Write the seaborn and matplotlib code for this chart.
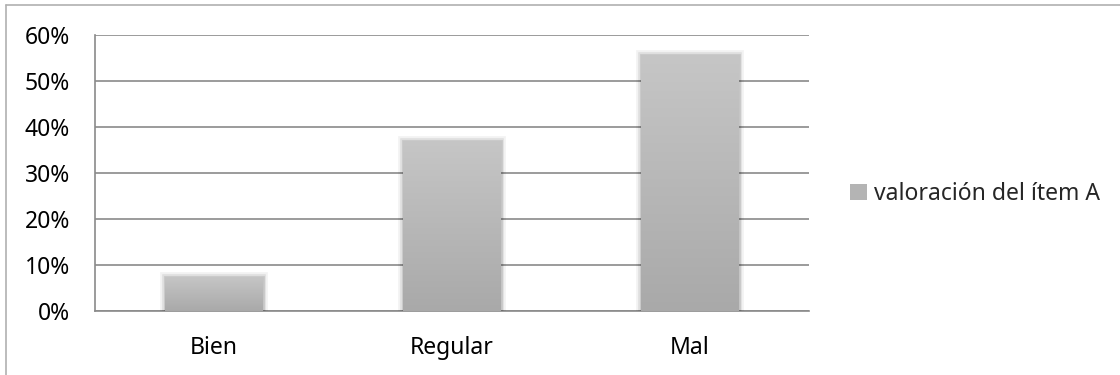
import numpy as np
import pandas as pd
import seaborn as sns
import matplotlib
matplotlib.use("Agg")
import matplotlib.pyplot as plt
import matplotlib.patheffects as pe
from matplotlib.lines import Line2D
from matplotlib.ticker import PercentFormatter
from matplotlib.colors import LinearSegmentedColormap

# ---- data ----
categories = ["Bien", "Regular", "Mal"]
values = [0.074, 0.370, 0.556]
series_name = "valoración del ítem A"
y_ticks = [0.0, 0.1, 0.2, 0.3, 0.4, 0.5, 0.6]

sns.set_theme(style="white")
plt.rcParams["font.family"] = ["Noto Sans", "DejaVu Sans"]

FS = 16.5

fig = plt.figure(figsize=(11.2, 3.75), dpi=100)
ax = fig.add_axes([95 / 1120, 1 - 311 / 375, (809 - 95) / 1120, (311 - 35) / 375])

df = pd.DataFrame({"cat": categories, "val": values})
sns.barplot(data=df, x="cat", y="val", color="#b4b4b4", width=0.41,
            saturation=1, ax=ax, label=series_name, zorder=3)

ax.set_ylim(0, 0.6)
ax.set_yticks(y_ticks)
ax.yaxis.set_major_formatter(PercentFormatter(1.0, decimals=0))
ax.grid(axis="y", color="#8a8a8a", linewidth=1.2, zorder=0)
ax.grid(axis="x", visible=False)
ax.set_axisbelow(True)
for s in ["top", "right"]:
    ax.spines[s].set_visible(False)
for s in ["left", "bottom"]:
    ax.spines[s].set_color("#8a8a8a")
    ax.spines[s].set_linewidth(1.2)
ax.tick_params(axis="both", length=0, labelsize=FS, colors="#000000")
ax.tick_params(axis="y", pad=18)
ax.tick_params(axis="x", pad=18)
ax.set_xlabel("")
ax.set_ylabel("")

# gradient fill + soft shadow on each bar
grad = np.linspace(0, 1, 256).reshape(-1, 1)
cmap = LinearSegmentedColormap.from_list("g", ["#a9a9a9", "#c6c6c6"])
for p in list(ax.patches):
    x0, y0 = p.get_x(), p.get_y()
    w, h = p.get_width(), p.get_height()
    p.set_path_effects([
        pe.Stroke(linewidth=7, foreground="#000000", alpha=0.05),
        pe.Stroke(linewidth=4, foreground="#000000", alpha=0.08),
        pe.Stroke(linewidth=2, foreground="#000000", alpha=0.10),
        pe.Normal(),
    ])
    p.set_edgecolor("none")
    im = ax.imshow(grad, extent=[x0, x0 + w, y0, y0 + h], origin="lower",
                   cmap=cmap, aspect="auto", zorder=4, interpolation="bicubic")
    im.set_clip_path(p)
ax.set_xlim(-0.5, 2.5)
ax.set_ylim(0, 0.6)

# legend
handles, labels = ax.get_legend_handles_labels()
if ax.get_legend() is not None:
    ax.get_legend().remove()
leg = fig.legend(handles, labels, loc="center left", bbox_to_anchor=(850 / 1120, 1 - 194 / 375),
                 frameon=False, fontsize=FS, handlelength=0.75, handleheight=0.75,
                 handletextpad=0.3, borderpad=0, borderaxespad=0)
for h in leg.legend_handles:
    h.set_path_effects([])

# outer chart-area border (extends beyond the image on the right/bottom)
fig.add_artist(Line2D([6 / 1120, 6 / 1120], [-0.1, 1 - 5 / 375], transform=fig.transFigure,
                      color="#b0b0b0", linewidth=1.2))
fig.add_artist(Line2D([6 / 1120, 1.1], [1 - 5 / 375, 1 - 5 / 375], transform=fig.transFigure,
                      color="#b0b0b0", linewidth=1.2))

fig.savefig("out.png", dpi=100, facecolor="white")
